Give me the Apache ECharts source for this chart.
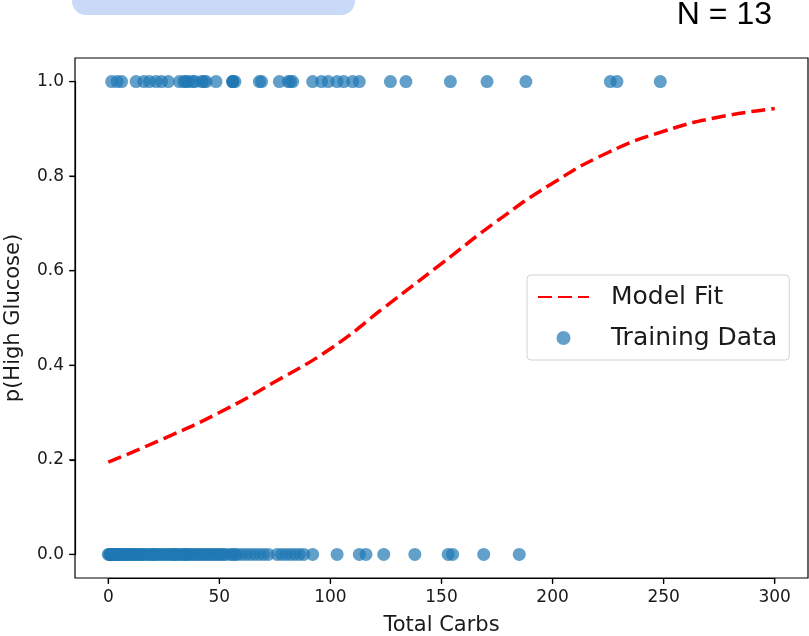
<!DOCTYPE html>
<html>
<head>
<meta charset="utf-8">
<script src="https://cdn.jsdelivr.net/npm/echarts@6/dist/echarts.min.js"></script>
<style>
html, body { margin: 0; padding: 0; background: #fff; }
#chart { width: 809px; height: 636px; }
</style>
</head>
<body>
<div id="chart"></div>
<script>
// fitted curve
var curveX = [0, 25, 50, 75, 100, 125, 150, 175, 200, 225, 250, 275, 300];
var curveP = [0.195, 0.245, 0.300, 0.365, 0.435, 0.525, 0.615, 0.705, 0.785, 0.850, 0.895, 0.925, 0.943];

// training points, high glucose (y = 1)
var highX = [1.5, 4, 6, 12.5, 16, 18.5, 21.5, 24, 27, 32, 34, 35, 36, 38, 39, 42, 43, 44, 48.5,
  56, 56, 56, 57, 68, 69, 77, 81, 82, 83, 92, 96, 99, 103, 106, 110, 113,
  127, 134, 154, 170.5, 188, 226, 229, 248.5];
// training points, low glucose (y = 0)
var lowX = [0, 0.5, 1, 1, 1.5, 2, 2, 2.5, 3, 3, 4, 4, 5, 5, 6, 6, 7, 7, 8, 9, 9, 10, 10, 11,
  12, 12, 13, 14, 15, 15, 16, 17, 18, 19, 20, 20, 21, 22, 23, 24, 25, 26, 27, 28, 29, 30,
  30, 31, 32, 33, 34, 35, 35, 36, 37, 38, 39, 40, 41, 42, 43, 44, 45, 46, 47, 48, 49, 50,
  51, 52, 53, 55, 56, 57, 58, 60, 62, 64, 66, 68, 70, 72, 76, 78, 80, 82, 84, 86, 88,
  92, 103, 113, 116, 124, 138, 153, 155, 169, 185];

var xTicks = [0, 50, 100, 150, 200, 250, 300];
var yTicks = [0, 0.2, 0.4, 0.6, 0.8, 1.0];

var curveData = curveX.map(function (x, i) { return [x, curveP[i]]; });
var scatterData = highX.map(function (x) { return [x, 1]; })
  .concat(lowX.map(function (x) { return [x, 0]; }));

var font = 'DejaVu Sans';
var myChart = echarts.init(document.getElementById('chart'), null, { renderer: 'canvas' });

// the data range 0..300 / 0..1 sits inside a frame padded like matplotlib's 5% margins;
// the axes are pushed out onto that frame with offset
var option = {
  animation: false,
  backgroundColor: '#fff',
  grid: {
    left: 108.3, right: 34.3, top: 81.6, bottom: 81.6,
    outerBoundsMode: 'none', containLabel: false, show: false
  },
  graphic: [
    { id: 'badge', type: 'rect', left: 72, top: -20, shape: { width: 283, height: 35, r: 14 }, style: { fill: '#c9daf8' } },
    { id: 'ncount', type: 'text', x: 772, y: 31,
      style: { text: 'N = 13', font: '32px "Liberation Sans"', fill: '#000', textAlign: 'right', textVerticalAlign: 'bottom' } },
    { id: 'frame', type: 'rect', shape: { x: 75, y: 58, width: 733, height: 520 }, z: 10,
      style: { fill: 'none', stroke: '#000', lineWidth: 1.2 } }
  ],
  legend: {
    orient: 'vertical',
    left: 527, top: 275,
    padding: [7, 12, 7, 10],
    itemGap: 11,
    itemWidth: 51, itemHeight: 14,
    borderColor: '#d4d4d4', borderWidth: 1, borderRadius: 4,
    backgroundColor: '#fff',
    textStyle: { fontFamily: font, fontSize: 25, color: '#1a1a1a', lineHeight: 30, padding: [0, 0, 0, 17] },
    data: [
      { name: 'Model Fit', itemStyle: { opacity: 0 } },
      { name: 'Training Data', icon: 'circle' }
    ]
  },
  xAxis: {
    type: 'value', min: 0, max: 300, interval: 50, offset: 23.6,
    name: 'Total Carbs', nameLocation: 'middle', nameGap: 37,
    nameTextStyle: { fontFamily: font, fontSize: 21, color: '#1a1a1a' },
    splitLine: { show: false },
    axisLine: { show: true, onZero: false, lineStyle: { color: '#000', width: 1.2 } },
    axisTick: { show: true, inside: false, length: 5, lineStyle: { color: '#000', width: 1.2 } },
    axisLabel: { margin: 11, fontFamily: font, fontSize: 17, color: '#1a1a1a', showMinLabel: true, showMaxLabel: true }
  },
  yAxis: {
    type: 'value', min: 0, max: 1, interval: 0.2, offset: 33.3,
    name: 'p(High Glucose)', nameLocation: 'middle', nameGap: 51,
    nameTextStyle: { fontFamily: font, fontSize: 21, color: '#1a1a1a' },
    splitLine: { show: false },
    axisLine: { show: true, onZero: false, lineStyle: { color: '#000', width: 1.2 } },
    axisTick: { show: true, inside: false, length: 5, lineStyle: { color: '#000', width: 1.2 } },
    axisLabel: {
      margin: 11, fontFamily: font, fontSize: 17, color: '#1a1a1a', showMinLabel: true, showMaxLabel: true,
      formatter: function (v) { return v.toFixed(1); }
    }
  },
  series: [
    {
      name: 'Model Fit', type: 'line', data: curveData, clip: false,
      smooth: true, symbol: 'none', z: 2,
      itemStyle: { color: '#ff0000' },
      lineStyle: { color: '#ff0000', width: 3.5, type: [14, 6] }
    },
    {
      name: 'Training Data', type: 'scatter', data: scatterData, clip: false,
      symbolSize: 13, z: 3,
      itemStyle: { color: '#1f77b4', opacity: 0.7 }
    }
  ]
};
myChart.setOption(option);

// tick marks on the outer frame, placed through the axes' own scales
var tickMarks = [];
xTicks.forEach(function (v, i) {
  var px = myChart.convertToPixel({ xAxisIndex: 0 }, v);
  tickMarks.push({ id: 'xt' + i, type: 'line', z: 10,
    shape: { x1: px, y1: 578, x2: px, y2: 584 }, style: { stroke: '#000', lineWidth: 1.2 } });
});
yTicks.forEach(function (v, i) {
  var py = myChart.convertToPixel({ yAxisIndex: 0 }, v);
  tickMarks.push({ id: 'yt' + i, type: 'line', z: 10,
    shape: { x1: 69, y1: py, x2: 75, y2: py }, style: { stroke: '#000', lineWidth: 1.2 } });
});
myChart.setOption({ graphic: tickMarks });
</script>
</body>
</html>
